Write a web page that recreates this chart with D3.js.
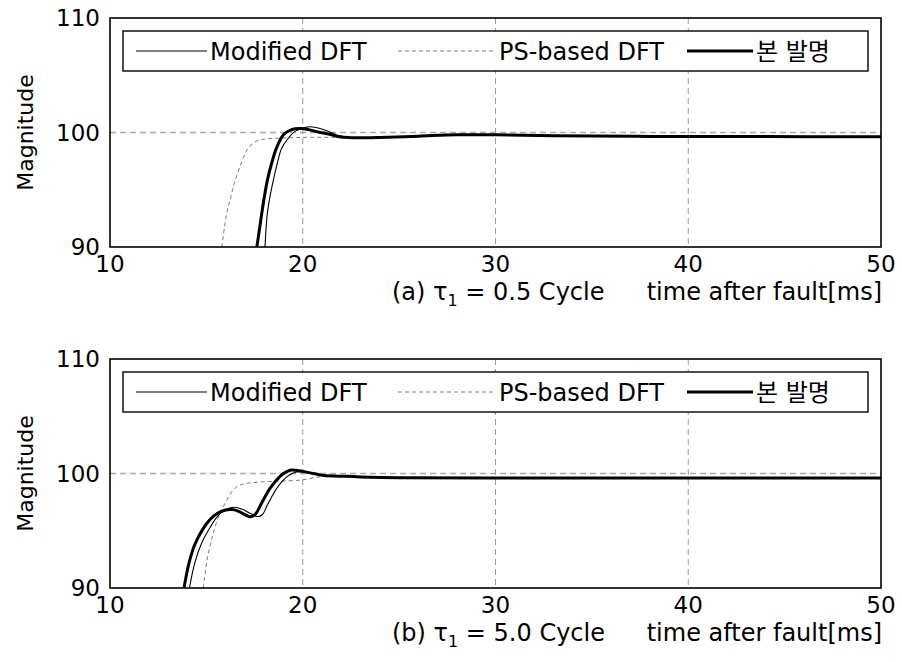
<!DOCTYPE html>
<html>
<head>
<meta charset="utf-8">
<script src="https://cdn.jsdelivr.net/npm/d3@7"></script>
<style>
body { margin: 0; background: #fff; }
text { font-family: "DejaVu Sans", "Noto Sans CJK KR", sans-serif; fill: #000; }
</style>
</head>
<body>
<script>
const xTicks = [10, 20, 30, 40, 50];
const yTicks = [90, 100, 110];
const seriesNames = ["Modified DFT", "PS-based DFT", "본 발명"];
const captionLeft = [["(a) τ", "1", " = 0.5 Cycle"], ["(b) τ", "1", " = 5.0 Cycle"]];
const captionRight = "time after fault[ms]";

// (a) tau1 = 0.5 cycle   [time ms, magnitude]
const modifiedA = [[18.04, 90], [18.16, 92.9], [18.3, 94.4], [18.47, 95.8], [18.68, 97.3], [18.9, 98.6],
  [19.25, 99.5], [19.6, 100.1], [20.0, 100.38], [20.4, 100.5], [20.9, 100.35], [21.4, 100.05],
  [21.9, 99.72], [22.5, 99.56], [23.5, 99.55], [24, 99.57], [26, 99.68], [28, 99.8], [30, 99.8],
  [33, 99.72], [38, 99.66], [44, 99.64], [50, 99.63]];
const psA = [[15.8, 90], [16.05, 92.9], [16.27, 94.4], [16.49, 95.8], [16.92, 97.8], [17.18, 98.67],
  [17.6, 99.25], [18.0, 99.42], [18.3, 99.48], [19.0, 99.52], [19.7, 99.56], [20.5, 99.58],
  [21.5, 99.57], [22.5, 99.55], [23.5, 99.55], [24, 99.57], [26, 99.68], [28, 99.8], [30, 99.8],
  [33, 99.72], [38, 99.66], [44, 99.64], [50, 99.63]];
const proposedA = [[17.62, 90], [17.75, 91.5], [17.87, 92.9], [18.0, 94.3], [18.16, 95.8], [18.4, 97.4],
  [18.65, 98.7], [19.0, 99.8], [19.3, 100.15], [19.6, 100.32], [19.9, 100.35], [20.3, 100.25],
  [20.8, 100.05], [21.4, 99.85], [21.9, 99.62], [22.5, 99.55], [23.5, 99.55], [24, 99.57], [26, 99.68],
  [28, 99.8], [30, 99.8], [33, 99.72], [38, 99.66], [44, 99.64], [50, 99.63]];

// (b) tau1 = 5.0 cycle
const modifiedB = [[14.12, 90], [14.4, 92.2], [14.75, 93.9], [15.2, 95.3], [15.6, 96.3], [16.0, 96.85],
  [16.4, 97.05], [16.9, 96.85], [17.3, 96.5], [17.65, 96.25], [17.9, 96.4], [18.15, 97.2], [18.4, 98.0],
  [18.65, 98.7], [18.9, 99.25], [19.17, 99.7], [19.45, 100.0], [19.7, 100.13], [20.0, 100.12],
  [20.5, 99.98], [21.1, 99.82], [22.3, 99.75], [23, 99.7], [25, 99.62], [30, 99.6], [40, 99.6], [50, 99.6]];
const psB = [[14.84, 90], [15.05, 92.6], [15.3, 94.4], [15.54, 95.8], [15.75, 96.7], [15.97, 97.4],
  [16.2, 98.1], [16.45, 98.65], [16.7, 98.95], [17.0, 99.12], [17.4, 99.2], [17.8, 99.26],
  [18.8, 99.34], [19.86, 99.42], [20.5, 99.6], [21.07, 99.76], [21.6, 99.79], [22.3, 99.75],
  [23, 99.7], [25, 99.62], [30, 99.6], [40, 99.6], [50, 99.6]];
const proposedB = [[13.84, 90], [14.1, 92.2], [14.4, 93.8], [14.8, 95.1], [15.2, 96.0], [15.6, 96.55],
  [16.0, 96.82], [16.35, 96.85], [16.7, 96.68], [17.0, 96.4], [17.3, 96.22], [17.55, 96.45], [17.8, 97.2],
  [18.05, 98.0], [18.3, 98.7], [18.6, 99.35], [18.85, 99.8], [19.1, 100.1], [19.4, 100.3], [19.8, 100.25],
  [20.2, 100.12], [20.7, 99.95], [21.1, 99.82], [22.3, 99.75], [23, 99.7], [25, 99.62], [30, 99.6],
  [40, 99.6], [50, 99.6]];

const w = 902, h = 662;
const left = 110, right = 881, ph = 229;

const svg = d3.select("body").append("svg")
  .attr("width", w).attr("height", h);

const x = d3.scaleLinear().domain([10, 50]).range([left, right]);

function panel(i, top, modified, ps, proposed) {
  const y = d3.scaleLinear().domain([90, 110]).range([top + ph, top]);
  const g = svg.append("g");

  g.append("clipPath").attr("id", "clip" + i)
    .append("rect").attr("x", left).attr("y", top).attr("width", right - left).attr("height", ph);

  // grid
  g.selectAll(".vg").data(xTicks.slice(1, -1)).enter().append("line")
    .attr("x1", d => x(d)).attr("x2", d => x(d))
    .attr("y1", top).attr("y2", top + ph)
    .attr("stroke", "#999").attr("stroke-width", 1).attr("stroke-dasharray", "6,4");
  g.append("line")
    .attr("x1", left).attr("x2", right).attr("y1", y(100)).attr("y2", y(100))
    .attr("stroke", "#aaa").attr("stroke-width", 1.3).attr("stroke-dasharray", "6,4");

  // legend box
  g.append("rect").attr("x", 123).attr("y", top + 13).attr("width", 745).attr("height", 40)
    .attr("fill", "#fff").attr("stroke", "#000").attr("stroke-width", 1.4);

  const line = d3.line().x(d => x(d[0])).y(d => y(d[1])).curve(d3.curveCatmullRom.alpha(0.5));
  const styles = [
    {data: ps, stroke: "#7a7a7a", width: 1, dash: "4,3"},
    {data: modified, stroke: "#000", width: 1.1, dash: null},
    {data: proposed, stroke: "#000", width: 3, dash: null}
  ];
  g.selectAll(".series").data(styles).enter().append("path")
    .attr("clip-path", "url(#clip" + i + ")")
    .attr("d", d => line(d.data))
    .attr("fill", "none")
    .attr("stroke", d => d.stroke)
    .attr("stroke-width", d => d.width)
    .attr("stroke-dasharray", d => d.dash)
    .attr("stroke-linejoin", "round");

  // legend entries
  const leg = [
    {name: seriesNames[0], x1: 136, x2: 207, tx: 210, stroke: "#000", width: 1.1, dash: null},
    {name: seriesNames[1], x1: 398, x2: 496, tx: 499, stroke: "#7a7a7a", width: 1, dash: "4,3"},
    {name: seriesNames[2], x1: 687, x2: 753, tx: 756, stroke: "#000", width: 3, dash: null}
  ];
  g.selectAll(".legl").data(leg).enter().append("line")
    .attr("x1", d => d.x1).attr("x2", d => d.x2)
    .attr("y1", top + 33).attr("y2", top + 33)
    .attr("stroke", d => d.stroke).attr("stroke-width", d => d.width)
    .attr("stroke-dasharray", d => d.dash);
  g.selectAll(".legt").data(leg).enter().append("text")
    .attr("x", d => d.tx).attr("y", top + 42)
    .attr("font-size", 24)
    .text(d => d.name);

  // frame
  g.append("rect").attr("x", left).attr("y", top).attr("width", right - left).attr("height", ph)
    .attr("fill", "none").attr("stroke", "#000").attr("stroke-width", 1.6);

  // tick labels
  g.selectAll(".yt").data(yTicks).enter().append("text")
    .attr("x", left - 10).attr("y", d => y(d)).attr("dy", "0.36em")
    .attr("text-anchor", "end").attr("font-size", 23)
    .text(d => d);
  g.selectAll(".xt").data(xTicks).enter().append("text")
    .attr("x", d => x(d)).attr("y", top + ph + 25)
    .attr("text-anchor", "middle").attr("font-size", 23)
    .text(d => d);

  // y label
  g.append("text")
    .attr("transform", "translate(33," + y(100) + ") rotate(-90)")
    .attr("text-anchor", "middle").attr("font-size", 22)
    .text("Magnitude");

  // caption
  const c = captionLeft[i];
  const t = g.append("text").attr("x", 392).attr("y", top + ph + 53).attr("font-size", 24);
  t.append("tspan").text(c[0]);
  t.append("tspan").attr("font-size", 16).attr("dy", 6).text(c[1]);
  t.append("tspan").attr("dy", -6).text(c[2]);
  g.append("text").attr("x", 882).attr("y", top + ph + 53)
    .attr("text-anchor", "end").attr("font-size", 24)
    .text(captionRight);
}

panel(0, 18, modifiedA, psA, proposedA);
panel(1, 359, modifiedB, psB, proposedB);
</script>
</body>
</html>
